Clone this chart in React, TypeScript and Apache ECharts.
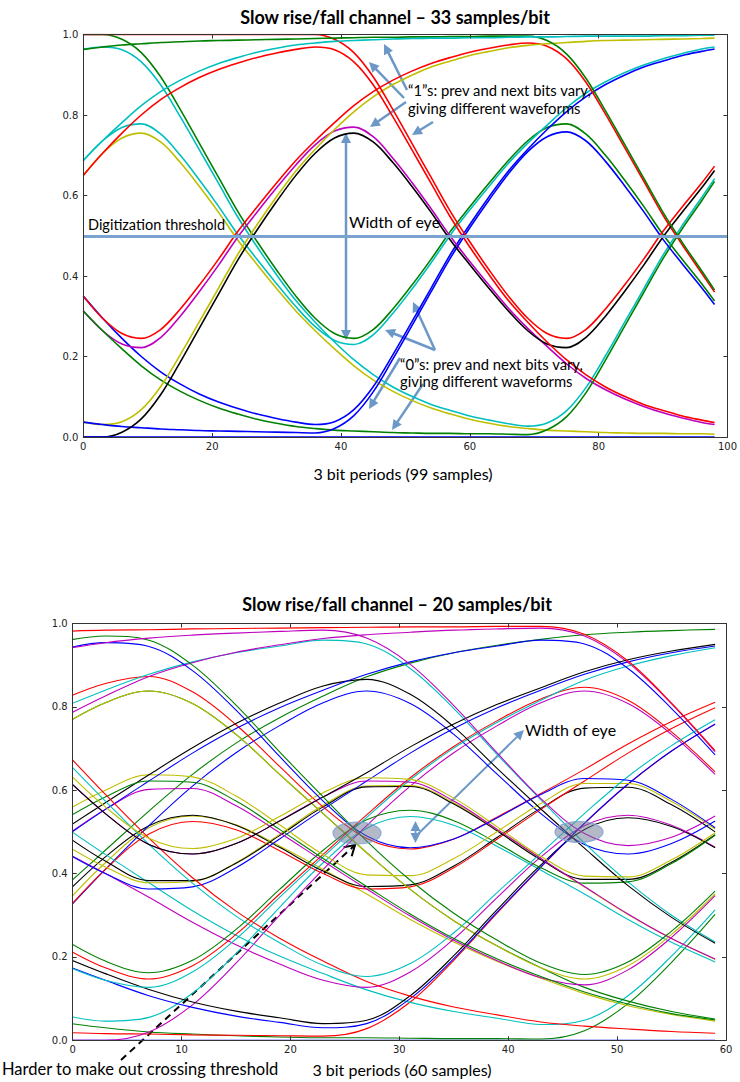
import React, { useEffect, useRef } from "react";
import * as echarts from "echarts";

// ---------- top chart (33 samples/bit) ----------
const topX = [0, 3, 6, 9, 12, 15, 18, 21, 24, 27, 30, 33, 36, 39, 42, 45, 48, 51, 54, 57, 60, 63, 66, 69, 72, 75, 78, 81, 84, 87, 90, 93, 96, 98];
const topT01 = [1, 1, 0.988, 0.955, 0.895, 0.815, 0.73, 0.645, 0.56, 0.485, 0.415, 0.35, 0.295, 0.257, 0.245, 0.267, 0.317, 0.377, 0.442, 0.511, 0.572, 0.631, 0.687, 0.736, 0.769, 0.778, 0.753, 0.701, 0.639, 0.573, 0.503, 0.441, 0.381, 0.338];
const topT02 = [0.963, 0.969, 0.962, 0.932, 0.875, 0.797, 0.714, 0.63, 0.546, 0.472, 0.403, 0.339, 0.285, 0.236, 0.192, 0.155, 0.125, 0.101, 0.081, 0.066, 0.052, 0.042, 0.033, 0.027, 0.035, 0.065, 0.122, 0.2, 0.284, 0.368, 0.452, 0.526, 0.595, 0.642];
const topT03 = [0.687, 0.736, 0.769, 0.778, 0.753, 0.701, 0.639, 0.573, 0.503, 0.441, 0.381, 0.324, 0.274, 0.24, 0.23, 0.254, 0.306, 0.367, 0.433, 0.502, 0.564, 0.623, 0.68, 0.73, 0.775, 0.818, 0.854, 0.882, 0.905, 0.924, 0.94, 0.953, 0.964, 0.969];
const topT04 = [0.65, 0.705, 0.743, 0.755, 0.733, 0.683, 0.623, 0.558, 0.489, 0.428, 0.369, 0.313, 0.264, 0.219, 0.177, 0.142, 0.114, 0.091, 0.072, 0.057, 0.044, 0.034, 0.026, 0.021, 0.017, 0.015, 0.013, 0.011, 0.01, 0.009, 0.009, 0.008, 0.008, 0.007];
const topT05 = [0.35, 0.295, 0.245, 0.2, 0.162, 0.132, 0.107, 0.087, 0.071, 0.057, 0.046, 0.037, 0.031, 0.038, 0.068, 0.125, 0.203, 0.286, 0.37, 0.454, 0.528, 0.597, 0.661, 0.715, 0.764, 0.808, 0.845, 0.875, 0.899, 0.919, 0.934, 0.948, 0.958, 0.964];
const topT06 = [0.35, 0.295, 0.257, 0.245, 0.267, 0.317, 0.377, 0.442, 0.511, 0.572, 0.631, 0.687, 0.736, 0.781, 0.823, 0.858, 0.886, 0.909, 0.928, 0.943, 0.956, 0.966, 0.974, 0.979, 0.971, 0.94, 0.882, 0.804, 0.72, 0.636, 0.551, 0.477, 0.407, 0.36];
const topT07 = [0.313, 0.264, 0.231, 0.222, 0.247, 0.299, 0.361, 0.427, 0.497, 0.559, 0.619, 0.676, 0.726, 0.76, 0.77, 0.746, 0.694, 0.633, 0.567, 0.498, 0.436, 0.377, 0.32, 0.27, 0.225, 0.182, 0.146, 0.118, 0.095, 0.076, 0.06, 0.047, 0.036, 0.031];
const topT08 = [0.313, 0.264, 0.219, 0.177, 0.142, 0.114, 0.091, 0.072, 0.057, 0.044, 0.034, 0.026, 0.021, 0.017, 0.015, 0.013, 0.011, 0.01, 0.009, 0.009, 0.008, 0.008, 0.007, 0.006, 0.018, 0.05, 0.109, 0.189, 0.274, 0.359, 0.443, 0.518, 0.587, 0.635];
const topT09 = [0.037, 0.031, 0.038, 0.068, 0.125, 0.203, 0.286, 0.37, 0.454, 0.528, 0.597, 0.661, 0.715, 0.764, 0.808, 0.845, 0.875, 0.899, 0.919, 0.934, 0.948, 0.958, 0.967, 0.973, 0.977, 0.98, 0.983, 0.985, 0.986, 0.987, 0.988, 0.989, 0.99, 0.991];
const topT10 = [0.037, 0.031, 0.026, 0.023, 0.02, 0.018, 0.016, 0.015, 0.014, 0.013, 0.012, 0.011, 0.01, 0.021, 0.053, 0.112, 0.192, 0.276, 0.361, 0.445, 0.52, 0.589, 0.654, 0.709, 0.746, 0.758, 0.736, 0.686, 0.625, 0.56, 0.491, 0.43, 0.371, 0.329];
const topT11 = [0, 0, 0.012, 0.045, 0.105, 0.185, 0.27, 0.355, 0.44, 0.515, 0.585, 0.65, 0.705, 0.743, 0.755, 0.733, 0.683, 0.623, 0.558, 0.489, 0.428, 0.369, 0.313, 0.264, 0.231, 0.222, 0.247, 0.299, 0.361, 0.427, 0.497, 0.559, 0.619, 0.662];
const topT12 = [0, 0, 0, 0, 0, 0, 0, 0, 0, 0, 0, 0, 0, 0, 0, 0, 0, 0, 0, 0, 0, 0, 0, 0, 0, 0, 0, 0, 0, 0, 0, 0, 0, 0];
const topT13 = [1, 1, 1, 1, 1, 1, 1, 1, 1, 1, 1, 1, 1, 0.988, 0.955, 0.895, 0.815, 0.73, 0.645, 0.56, 0.485, 0.415, 0.35, 0.295, 0.257, 0.245, 0.267, 0.317, 0.377, 0.442, 0.511, 0.572, 0.631, 0.673];
const topT14 = [0.963, 0.969, 0.974, 0.977, 0.98, 0.982, 0.984, 0.985, 0.986, 0.987, 0.988, 0.989, 0.99, 0.991, 0.992, 0.993, 0.993, 0.994, 0.994, 0.995, 0.995, 0.996, 0.996, 0.996, 0.985, 0.952, 0.892, 0.812, 0.728, 0.643, 0.558, 0.483, 0.413, 0.365];
const topT15 = [0.687, 0.736, 0.781, 0.823, 0.858, 0.886, 0.909, 0.928, 0.943, 0.956, 0.966, 0.974, 0.979, 0.983, 0.985, 0.987, 0.989, 0.99, 0.991, 0.991, 0.992, 0.992, 0.993, 0.994, 0.994, 0.995, 0.996, 0.996, 0.996, 0.996, 0.997, 0.997, 0.998, 0.998];
const topT16 = [0.65, 0.705, 0.755, 0.8, 0.838, 0.868, 0.893, 0.913, 0.929, 0.943, 0.954, 0.963, 0.969, 0.962, 0.932, 0.875, 0.797, 0.714, 0.63, 0.546, 0.472, 0.403, 0.339, 0.285, 0.236, 0.192, 0.155, 0.125, 0.101, 0.081, 0.066, 0.052, 0.042, 0.036];
const topColorKeys = "gccybrmgybkbrgcr";
const topThreshold = 0.5;

// ---------- bottom chart (20 samples/bit) ----------
const bottomX = [-1, 3, 7, 11, 15, 19, 23, 27, 31, 35, 39, 43, 47, 51, 55, 59];
const botT01 = [0, 0, 0, 0, 0, 0, 0, 0, 0, 0, 0, 0, 0, 0, 0, 0];
const botT02 = [0.043, 0.03, 0.02, 0.015, 0.011, 0.008, 0.006, 0.006, 0.005, 0.004, 0.004, 0.003, 0.023, 0.088, 0.187, 0.302];
const botT03 = [0.019, 0.016, 0.015, 0.013, 0.012, 0.011, 0.01, 0.028, 0.092, 0.192, 0.306, 0.415, 0.52, 0.614, 0.694, 0.758];
const botT04 = [0.062, 0.046, 0.055, 0.113, 0.208, 0.319, 0.426, 0.509, 0.537, 0.516, 0.465, 0.408, 0.351, 0.29, 0.235, 0.188];
const botT05 = [0, 0, 0.02, 0.085, 0.185, 0.3, 0.41, 0.515, 0.61, 0.69, 0.755, 0.81, 0.838, 0.808, 0.734, 0.638];
const botT06 = [0.319, 0.426, 0.51, 0.538, 0.517, 0.466, 0.41, 0.351, 0.29, 0.236, 0.189, 0.149, 0.112, 0.083, 0.062, 0.046];
const botT07 = [0.343, 0.44, 0.515, 0.54, 0.516, 0.463, 0.406, 0.369, 0.373, 0.418, 0.487, 0.557, 0.605, 0.607, 0.565, 0.5];
const botT08 = [0.3, 0.41, 0.515, 0.61, 0.69, 0.755, 0.81, 0.838, 0.808, 0.734, 0.638, 0.544, 0.47, 0.447, 0.472, 0.526];
const botT09 = [0.362, 0.456, 0.55, 0.638, 0.713, 0.774, 0.826, 0.872, 0.905, 0.93, 0.948, 0.962, 0.973, 0.979, 0.983, 0.986];
const botT10 = [0.3, 0.41, 0.495, 0.525, 0.505, 0.455, 0.4, 0.363, 0.368, 0.414, 0.483, 0.554, 0.622, 0.689, 0.748, 0.798];
const botT11 = [0.517, 0.446, 0.378, 0.311, 0.252, 0.202, 0.16, 0.121, 0.091, 0.069, 0.053, 0.038, 0.048, 0.107, 0.202, 0.313];
const botT12 = [0.455, 0.4, 0.343, 0.283, 0.229, 0.183, 0.144, 0.127, 0.164, 0.243, 0.343, 0.44, 0.515, 0.54, 0.516, 0.463];
const botT13 = [0.474, 0.416, 0.378, 0.381, 0.426, 0.494, 0.564, 0.61, 0.611, 0.57, 0.504, 0.435, 0.368, 0.302, 0.244, 0.194];
const botT14 = [0.498, 0.43, 0.383, 0.383, 0.425, 0.491, 0.56, 0.608, 0.609, 0.567, 0.502, 0.433, 0.386, 0.386, 0.427, 0.493];
const botT15 = [0.455, 0.4, 0.363, 0.368, 0.414, 0.483, 0.554, 0.622, 0.689, 0.748, 0.798, 0.84, 0.878, 0.908, 0.93, 0.946];
const botT16 = [0.755, 0.81, 0.838, 0.808, 0.734, 0.638, 0.544, 0.45, 0.362, 0.287, 0.226, 0.174, 0.127, 0.094, 0.069, 0.051];
const botT17 = [0.817, 0.856, 0.873, 0.836, 0.757, 0.657, 0.56, 0.484, 0.459, 0.483, 0.536, 0.592, 0.65, 0.711, 0.765, 0.811];
const botT18 = [0.798, 0.84, 0.878, 0.908, 0.93, 0.946, 0.96, 0.951, 0.892, 0.796, 0.685, 0.577, 0.473, 0.38, 0.3, 0.236];
const botT19 = [0.774, 0.826, 0.873, 0.906, 0.931, 0.949, 0.964, 0.973, 0.979, 0.984, 0.987, 0.989, 0.97, 0.906, 0.807, 0.692];
const botT20 = [0.755, 0.81, 0.838, 0.808, 0.734, 0.638, 0.544, 0.45, 0.362, 0.287, 0.226, 0.174, 0.147, 0.179, 0.254, 0.351];
const botT21 = [0.202, 0.16, 0.122, 0.092, 0.07, 0.054, 0.04, 0.048, 0.107, 0.203, 0.314, 0.421, 0.506, 0.534, 0.513, 0.462];
const botT22 = [0.183, 0.144, 0.107, 0.079, 0.058, 0.043, 0.03, 0.04, 0.1, 0.196, 0.308, 0.416, 0.521, 0.615, 0.694, 0.759];
const botT23 = [0.245, 0.19, 0.162, 0.192, 0.266, 0.362, 0.456, 0.529, 0.552, 0.527, 0.473, 0.414, 0.377, 0.38, 0.424, 0.492];
const botT24 = [0.226, 0.174, 0.147, 0.179, 0.254, 0.351, 0.446, 0.541, 0.63, 0.705, 0.767, 0.819, 0.847, 0.816, 0.74, 0.644];
const botT25 = [0.183, 0.144, 0.127, 0.164, 0.243, 0.343, 0.44, 0.535, 0.625, 0.701, 0.763, 0.816, 0.864, 0.898, 0.923, 0.942];
const botT26 = [0.483, 0.554, 0.602, 0.604, 0.563, 0.498, 0.43, 0.363, 0.298, 0.24, 0.191, 0.15, 0.133, 0.169, 0.247, 0.347];
const botT27 = [0.545, 0.6, 0.637, 0.632, 0.586, 0.517, 0.446, 0.397, 0.395, 0.436, 0.501, 0.568, 0.616, 0.616, 0.573, 0.507];
const botT28 = [0.502, 0.57, 0.637, 0.702, 0.76, 0.809, 0.85, 0.866, 0.83, 0.752, 0.652, 0.555, 0.461, 0.371, 0.295, 0.233];
const botT29 = [0.483, 0.554, 0.622, 0.689, 0.748, 0.798, 0.84, 0.878, 0.908, 0.93, 0.946, 0.96, 0.951, 0.892, 0.796, 0.685];
const botT30 = [0.526, 0.584, 0.622, 0.619, 0.574, 0.506, 0.436, 0.369, 0.303, 0.244, 0.195, 0.153, 0.116, 0.087, 0.064, 0.049];
const botT31 = [0.7, 0.59, 0.485, 0.39, 0.31, 0.245, 0.19, 0.141, 0.106, 0.08, 0.061, 0.044, 0.034, 0.027, 0.021, 0.017];
const botT32 = [0.681, 0.574, 0.47, 0.377, 0.298, 0.234, 0.18, 0.153, 0.184, 0.258, 0.355, 0.449, 0.544, 0.633, 0.707, 0.769];
const botT33 = [0.638, 0.544, 0.47, 0.447, 0.472, 0.526, 0.584, 0.622, 0.619, 0.574, 0.506, 0.436, 0.369, 0.303, 0.244, 0.195];
const botT34 = [0.657, 0.56, 0.485, 0.46, 0.484, 0.537, 0.594, 0.63, 0.626, 0.581, 0.512, 0.441, 0.394, 0.392, 0.433, 0.498];
const botT35 = [0.638, 0.544, 0.47, 0.447, 0.472, 0.526, 0.584, 0.642, 0.704, 0.759, 0.806, 0.846, 0.884, 0.913, 0.934, 0.95];
const botT36 = [0.938, 0.954, 0.945, 0.887, 0.792, 0.681, 0.574, 0.49, 0.462, 0.483, 0.534, 0.59, 0.628, 0.624, 0.578, 0.51];
const botT37 = [0.957, 0.97, 0.96, 0.9, 0.804, 0.692, 0.584, 0.478, 0.384, 0.305, 0.24, 0.185, 0.158, 0.188, 0.262, 0.358];
const botT38 = [0.981, 0.984, 0.985, 0.987, 0.988, 0.989, 0.99, 0.991, 0.992, 0.992, 0.993, 0.993, 0.974, 0.91, 0.809, 0.695];
const botT39 = [1, 1, 1, 1, 1, 1, 1, 1, 1, 1, 1, 1, 1, 1, 1, 1];
const botT40 = [0.938, 0.954, 0.965, 0.972, 0.977, 0.981, 0.984, 0.965, 0.902, 0.803, 0.689, 0.58, 0.496, 0.467, 0.487, 0.538];
const bottomColorKeys = "bgrcmykbgrcmykbgrcmykbgrcmykbgrcmykbgrgm";

const topTitle = "Slow rise/fall channel \u2013 33 samples/bit";
const bottomTitle = "Slow rise/fall channel \u2013 20 samples/bit";
const topXLabel = "3 bit periods (99 samples)";
const bottomXLabel = "3 bit periods (60 samples)";

const topTraces = [topT01, topT02, topT03, topT04, topT05, topT06, topT07, topT08, topT09, topT10, topT11, topT12, topT13, topT14, topT15, topT16];
const bottomTraces = [botT01, botT02, botT03, botT04, botT05, botT06, botT07, botT08, botT09, botT10, botT11, botT12, botT13, botT14, botT15, botT16, botT17, botT18, botT19, botT20, botT21, botT22, botT23, botT24, botT25, botT26, botT27, botT28, botT29, botT30, botT31, botT32, botT33, botT34, botT35, botT36, botT37, botT38, botT39, botT40];

const mpl: Record<string, string> = {
  b: "#0000ff", g: "#008000", r: "#ff0000", c: "#00bfbf", m: "#bf00bf", y: "#bfbf00", k: "#000000",
};

const ANN = "#6c98c8";

function head(x1: number, y1: number, x2: number, y2: number, len: number, half: number) {
  const a = Math.atan2(y2 - y1, x2 - x1);
  const bx = x2 - len * Math.cos(a);
  const by = y2 - len * Math.sin(a);
  return [
    [x2, y2],
    [bx + half * Math.sin(a), by - half * Math.cos(a)],
    [bx - half * Math.sin(a), by + half * Math.cos(a)],
  ];
}

function arrow(x1: number, y1: number, x2: number, y2: number, color = ANN, width = 2.5, both = false) {
  const len = 10, half = 5;
  const a = Math.atan2(y2 - y1, x2 - x1);
  const ex = x2 - (len - 2) * Math.cos(a), ey = y2 - (len - 2) * Math.sin(a);
  const sx = both ? x1 + (len - 2) * Math.cos(a) : x1;
  const sy = both ? y1 + (len - 2) * Math.sin(a) : y1;
  const children: any[] = [
    { type: "line", shape: { x1: sx, y1: sy, x2: ex, y2: ey }, style: { stroke: color, lineWidth: width } },
    { type: "polygon", shape: { points: head(x1, y1, x2, y2, len, half) }, style: { fill: color } },
  ];
  if (both) children.push({ type: "polygon", shape: { points: head(x2, y2, x1, y1, len, half) }, style: { fill: color } });
  return { type: "group", z: 100, children };
}

function dashedArrow(x1: number, y1: number, x2: number, y2: number) {
  const pts = head(x1, y1, x2, y2, 10, 6);
  return {
    type: "group", z: 100,
    children: [
      { type: "line", shape: { x1, y1, x2, y2 }, style: { stroke: "#000", lineWidth: 2, lineDash: [7, 5] } },
      { type: "polyline", shape: { points: [pts[1], pts[0], pts[2]] }, style: { stroke: "#000", lineWidth: 2, fill: "none" } },
    ],
  };
}

function label(text: string, x: number, y: number, size = 14, align = "left", bold = false) {
  return {
    type: "text", x, y, z: 110,
    style: {
      text, fill: "#000",
      font: `${bold ? "bold " : ""}${size}px Lato, "Open Sans", sans-serif`,
      align, verticalAlign: "middle", textAlign: align, textVerticalAlign: "middle",
    },
  };
}

const axisLineStyle = { show: true, onZero: false, lineStyle: { color: "#333", width: 1 } };
const tickStyle = { show: true, inside: true, length: 4, lineStyle: { color: "#333" } };
const tickLabel = { fontFamily: "DejaVu Sans", fontSize: 10, color: "#222" };

function xAxes(gridIndex: number, max: number, interval: number) {
  return [
    { type: "value", gridIndex, z: 5, min: 0, max, interval, position: "bottom", axisLine: axisLineStyle, axisTick: tickStyle, splitLine: { show: false }, axisLabel: { ...tickLabel, margin: 4 } },
    { type: "value", gridIndex, z: 5, min: 0, max, interval, position: "top", axisLine: axisLineStyle, axisTick: tickStyle, splitLine: { show: false }, axisLabel: { show: false } },
  ];
}
function yAxes(gridIndex: number) {
  return [
    { type: "value", gridIndex, z: 5, min: 0, max: 1, interval: 0.2, position: "left", axisLine: axisLineStyle, axisTick: tickStyle, splitLine: { show: false }, axisLabel: { ...tickLabel, margin: 5, formatter: (v: number) => v.toFixed(1) } },
    { type: "value", gridIndex, z: 5, min: 0, max: 1, interval: 0.2, position: "right", axisLine: axisLineStyle, axisTick: tickStyle, splitLine: { show: false }, axisLabel: { show: false } },
  ];
}

export default function App() {
  const ref = useRef<HTMLDivElement>(null);
  useEffect(() => {
    if (!ref.current) return;
    const chart = echarts.init(ref.current, undefined, { renderer: "svg" });
    const series: any[] = [];
    topTraces.forEach((ys, i) => {
      series.push({
        type: "line", xAxisIndex: 0, yAxisIndex: 0, z: 2,
        data: topX.map((x, k) => [x, ys[k]]),
        showSymbol: false, symbol: "none", smooth: 0.35, silent: true, clip: true,
        lineStyle: { width: 1.6, color: mpl[topColorKeys[i]] },
      });
    });
    series.push({
      type: "line", xAxisIndex: 0, yAxisIndex: 0, data: [], z: 6,
      markLine: {
        silent: true, symbol: ["none", "none"], label: { show: false },
        lineStyle: { color: "#7ba3d0", width: 3, type: "solid" },
        data: [{ yAxis: topThreshold }],
      },
    });
    bottomTraces.forEach((ys, i) => {
      series.push({
        type: "line", xAxisIndex: 2, yAxisIndex: 2, z: 2,
        data: bottomX.map((x, k) => [x, ys[k]]),
        showSymbol: false, symbol: "none", smooth: 0.35, silent: true, clip: true,
        lineStyle: { width: 1.1, color: mpl[bottomColorKeys[i]] },
      });
    });

    const graphics: any[] = [
      label(topTitle, 395, 17, 18, "center", true),
      label(bottomTitle, 397, 604, 18, "center", true),
      label(topXLabel, 403, 473, 16, "center"),
      label(bottomXLabel, 402, 1069, 16, "center"),
      label("Harder to make out crossing threshold", 2, 1069, 16.5, "left"),
      label("Digitization threshold", 88, 224, 14.5, "left"),
      label("Width of eye", 349, 221, 16, "left"),
      label("\u201c1\u201ds: prev and next bits vary,", 408, 90, 14.8, "left"),
      label("giving different waveforms", 408, 108, 14.8, "left"),
      label("\u201c0\u201ds: prev and next bits vary,", 400, 364, 14.8, "left"),
      label("giving different waveforms", 400, 381, 14.8, "left"),
      label("Width of eye", 525, 729, 16, "left"),
      arrow(346, 133, 346, 340, ANN, 2.5, true),
      arrow(407, 90, 384, 44),
      arrow(404, 98, 369, 62),
      arrow(406, 102, 370, 127),
      arrow(433, 122, 412, 135),
      arrow(435, 350, 385, 330),
      arrow(435, 350, 413, 302),
      arrow(400, 358, 369, 409),
      arrow(423, 384, 392, 430),
      {
        type: "ellipse", z: 90, shape: { cx: 357, cy: 833, rx: 24, ry: 11 },
        style: { fill: "rgba(105,115,145,0.5)", stroke: "rgba(130,165,215,0.9)", lineWidth: 1.2 },
      },
      {
        type: "ellipse", z: 90, shape: { cx: 579, cy: 832, rx: 24, ry: 10.5 },
        style: { fill: "rgba(105,115,145,0.5)", stroke: "rgba(130,165,215,0.9)", lineWidth: 1.2 },
      },
      arrow(415.5, 821, 415.5, 843, ANN, 2, true),
      arrow(418, 834, 524, 730, ANN, 2),
      dashedArrow(121, 1060, 355, 845),
    ];

    chart.setOption({
      animation: false,
      backgroundColor: "#ffffff",
      grid: [
        { left: 83.3, top: 34.5, width: 650, height: 402.5, containLabel: false },
        { left: 72.7, top: 623.5, width: 653.3, height: 416.8, containLabel: false },
      ],
      xAxis: [...xAxes(0, 100, 20), ...xAxes(1, 60, 10)],
      yAxis: [...yAxes(0), ...yAxes(1)],
      series,
      graphic: graphics,
    });
    return () => chart.dispose();
  }, []);
  return (
    <div
      ref={ref}
      style={{ position: "absolute", left: 0, top: 0, width: 740, height: 1082, background: "#fff" }}
    />
  );
}
